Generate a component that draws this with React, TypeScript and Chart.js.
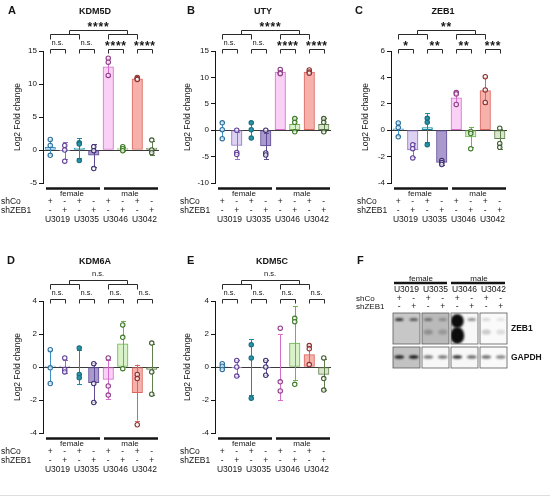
import { useEffect, useRef } from "react";
import { Chart, registerables } from "chart.js";

Chart.register(...registerables);

const FONT = '"Liberation Sans", Arial, Helvetica, sans-serif';
const INK = "#151515";

// shared layout of the 8 conditions
const conditions = [
  "U3019 shCo", "U3019 shZEB1", "U3035 shCo", "U3035 shZEB1",
  "U3046 shCo", "U3046 shZEB1", "U3042 shCo", "U3042 shZEB1",
];
const cellLines = ["U3019", "U3035", "U3046", "U3042"];
const sexes = ["female", "male"];
const shCoRow = ["+", "-", "+", "-", "+", "-", "+", "-"];
const shZebRow = ["-", "+", "-", "+", "-", "+", "-", "+"];

const barFill = ["#c8e4f4", "#ded2f2", "#c2e6ec", "#a999cd", "#fbd0f7", "#d9f2c9", "#f6b1ab", "#d9e6cd"];
const barEdge = ["#3d92c6", "#8f6fc6", "#1c8ba1", "#5d4b95", "#d56dcd", "#70b24e", "#d9655d", "#61804e"];
const dotEdge = ["#2d6f9c", "#60409a", "#15707f", "#3f2f72", "#8e3c86", "#3f7a2a", "#8e2e2e", "#3f5c30"];
const dotFill = [
  "rgba(255,255,255,0.7)", "rgba(255,255,255,0.7)", "#2a93a8", "rgba(255,255,255,0.7)",
  "rgba(255,255,255,0.7)", "rgba(255,255,255,0.7)", "rgba(255,255,255,0.7)", "rgba(255,255,255,0.7)",
];

// A - KDM5D
const kdm5dTicks = [-5, 0, 5, 10, 15];
const kdm5dMean = [0.4, -0.1, 0.3, -0.8, 12.6, 0.2, 10.8, 0.3];
const kdm5dSd = [1.2, 1.3, 1.5, 1.7, 1.4, 0.3, 0.2, 1.0];
const kdm5dReps = [[1.6, 0.7, -0.8], [0.7, 0.0, -1.7], [1.1, 0.9, -1.6], [0.5, -0.1, -2.8], [13.9, 13.3, 11.3], [0.5, 0.2, -0.1], [11.0, 10.8, 10.7], [1.5, 0.0, -0.4]];
const kdm5dPairSig = ["n.s.", "n.s.", "****", "****"];
const kdm5dTopSig = "****";

// B - UTY
const utyTicks = [-10, -5, 0, 5, 10, 15];
const utyMean = [0.0, -2.9, 0.0, -3.0, 11.0, 1.1, 11.0, 1.1];
const utySd = [1.5, 2.5, 1.5, 2.5, 0.4, 1.2, 0.3, 1.2];
const utyReps = [[1.4, 0.1, -1.6], [0.0, -4.2, -4.6], [1.4, 0.1, -1.5], [0.0, -4.3, -4.7], [11.5, 10.9, 10.7], [2.2, 1.5, -0.3], [11.4, 11.0, 10.8], [2.2, 1.5, -0.3]];
const utyPairSig = ["n.s.", "n.s.", "****", "****"];
const utyTopSig = "****";

// C - ZEB1
const zeb1Ticks = [-4, -2, 0, 2, 4, 6];
const zeb1Mean = [0.1, -1.5, 0.2, -2.45, 2.45, -0.5, 3.0, -0.65];
const zeb1Sd = [0.55, 0.5, 1.1, 0.15, 0.5, 0.75, 1.0, 0.75];
const zeb1Reps = [[0.55, 0.2, -0.5], [-1.1, -1.4, -2.1], [0.9, 0.6, -1.1], [-2.3, -2.45, -2.6], [2.85, 2.75, 1.95], [-0.1, -0.25, -1.4], [4.05, 3.05, 2.1], [0.15, -1.0, -1.3]];
const zeb1PairSig = ["*", "**", "**", "***"];
const zeb1TopSig = "**";

// D - KDM6A
const kdm6aTicks = [-4, -2, 0, 2, 4];
const kdm6aMean = [0.05, 0.05, 0.0, -0.95, -0.75, 1.4, -1.55, -0.15];
const kdm6aSd = [1.0, 0.4, 1.05, 1.2, 1.2, 1.4, 1.7, 1.55];
const kdm6aReps = [[1.05, -0.05, -1.0], [0.55, -0.15, -0.3], [1.15, -0.45, -0.65], [0.2, -1.0, -2.15], [0.55, -1.15, -1.7], [2.55, 1.8, -0.1], [-0.45, -0.7, -3.5], [1.45, -0.3, -1.65]];
const kdm6aPairSig = ["n.s.", "n.s.", "n.s.", "n.s."];
const kdm6aTopSig = "n.s.";

// E - KDM5C
const kdm5cTicks = [-4, -2, 0, 2, 4];
const kdm5cMean = [0.03, -0.05, 0.0, -0.05, 0.0, 1.45, 0.75, -0.45];
const kdm5cSd = [0.15, 0.5, 1.7, 0.45, 2.0, 2.25, 0.6, 0.95];
const kdm5cReps = [[0.2, 0.05, -0.15], [0.4, 0.0, -0.55], [1.35, 0.55, -1.9], [0.4, 0.0, -0.5], [2.35, -0.9, -1.45], [2.95, 2.75, -1.05], [1.3, 1.1, 0.15], [0.55, -0.7, -1.4]];
const kdm5cPairSig = ["n.s.", "n.s.", "n.s.", "n.s."];
const kdm5cTopSig = "n.s.";

// F - western blot, relative band signal per lane (>1 = overexposed)
const zeb1Upper = [0.8, 0.6, 0.45, 0.3, 3, 0.45, 0.15, 0.1];
const zeb1Lower = [0, 0, 0.25, 0.2, 3, 0, 0.2, 0.12];
const gapdhBand = [0.9, 0.95, 0.55, 0.55, 0.85, 0.6, 0.6, 0.5];
const zeb1Backdrop = [0.78, 0.73, 0.97, 0.98];
const gapdhBackdrop = [0.76, 0.97, 0.97, 0.98];

const AREA_TOP = 51;
const AREA_BOTTOM = 183;

type Panel = {
  letter: string;
  title: string;
  ticks: number[];
  mean: number[];
  sd: number[];
  reps: number[][];
  pairSig: string[];
  topSig: string;
  box: { left: number; top: number; width: number; height: number };
  area: { left: number; right: number };
  letterX: number;
  rowX: number;
  titlePad: number;
  titleShift: number;
};

const panels: Panel[] = [
  { letter: "A", title: "KDM5D", ticks: kdm5dTicks, mean: kdm5dMean, sd: kdm5dSd, reps: kdm5dReps, pairSig: kdm5dPairSig, topSig: kdm5dTopSig,
    box: { left: 0, top: 0, width: 180, height: 230 }, area: { left: 43, right: 159 }, letterX: 8, rowX: 1, titlePad: 13, titleShift: -6 },
  { letter: "B", title: "UTY", ticks: utyTicks, mean: utyMean, sd: utySd, reps: utyReps, pairSig: utyPairSig, topSig: utyTopSig,
    box: { left: 180, top: 0, width: 172, height: 230 }, area: { left: 35, right: 151 }, letterX: 7, rowX: 0, titlePad: 3, titleShift: -10 },
  { letter: "C", title: "ZEB1", ticks: zeb1Ticks, mean: zeb1Mean, sd: zeb1Sd, reps: zeb1Reps, pairSig: zeb1PairSig, topSig: zeb1TopSig,
    box: { left: 352, top: 0, width: 198, height: 230 }, area: { left: 39, right: 155 }, letterX: 3, rowX: 5, titlePad: 9, titleShift: -6 },
  { letter: "D", title: "KDM6A", ticks: kdm6aTicks, mean: kdm6aMean, sd: kdm6aSd, reps: kdm6aReps, pairSig: kdm6aPairSig, topSig: kdm6aTopSig,
    box: { left: 0, top: 250, width: 180, height: 230 }, area: { left: 43, right: 159 }, letterX: 7, rowX: 1, titlePad: 13, titleShift: -6 },
  { letter: "E", title: "KDM5C", ticks: kdm5cTicks, mean: kdm5cMean, sd: kdm5cSd, reps: kdm5cReps, pairSig: kdm5cPairSig, topSig: kdm5cTopSig,
    box: { left: 180, top: 250, width: 172, height: 230 }, area: { left: 35, right: 151 }, letterX: 7, rowX: 0, titlePad: 3, titleShift: -1 },
];

const crisp = (v: number) => Math.round(v) + 0.5;

const drawBracket = (ctx: CanvasRenderingContext2D, x1: number, x2: number, y: number, leg: number) => {
  ctx.beginPath();
  ctx.moveTo(crisp(x1), y + leg);
  ctx.lineTo(crisp(x1), crisp(y));
  ctx.lineTo(crisp(x2), crisp(y));
  ctx.lineTo(crisp(x2), y + leg);
  ctx.stroke();
};

const drawSig = (ctx: CanvasRenderingContext2D, text: string, x: number, y: number) => {
  ctx.textAlign = "center";
  if (text.includes("*")) {
    ctx.font = `bold 12px ${FONT}`;
    (ctx as any).letterSpacing = "0.8px";
    ctx.textBaseline = "alphabetic";
    ctx.fillText(text, x + 0.4, y + 7);
    (ctx as any).letterSpacing = "0px";
  } else {
    ctx.font = `7.5px ${FONT}`;
    ctx.textBaseline = "middle";
    ctx.fillText(text, x, y);
  }
};

const makeErrorBars = (p: Panel) => ({
  id: "errorBars",
  afterDatasetDraw(chart: any, args: any) {
    if (args.index !== 0) return;
    const { ctx } = chart;
    const y = chart.scales.y;
    const meta = chart.getDatasetMeta(0);
    ctx.save();
    ctx.lineWidth = 1;
    meta.data.forEach((el: any, i: number) => {
      const x = crisp(el.x);
      const y1 = y.getPixelForValue(p.mean[i] + p.sd[i]);
      const y2 = y.getPixelForValue(p.mean[i] - p.sd[i]);
      ctx.strokeStyle = barEdge[i];
      ctx.beginPath();
      ctx.moveTo(x, y1);
      ctx.lineTo(x, y2);
      ctx.moveTo(x - 2.5, crisp(y1));
      ctx.lineTo(x + 2.5, crisp(y1));
      ctx.moveTo(x - 2.5, crisp(y2));
      ctx.lineTo(x + 2.5, crisp(y2));
      ctx.stroke();
    });
    ctx.restore();
  },
});

const makeAnnotations = (p: Panel) => ({
  id: "annotations",
  afterDraw(chart: any) {
    const { ctx, chartArea: a } = chart;
    const px = (v: number) => chart.scales.x.getPixelForValue(v);
    ctx.save();
    ctx.fillStyle = INK;
    ctx.strokeStyle = "#2a2a2a";
    ctx.lineWidth = 1;

    ctx.font = `bold 11px ${FONT}`;
    ctx.textAlign = "left";
    ctx.textBaseline = "middle";
    ctx.fillText(p.letter, p.letterX, 11);

    ctx.font = `bold 9px ${FONT}`;
    ctx.textAlign = "center";
    ctx.fillText(p.title, (a.left + a.right) / 2 + p.titleShift, a.top - 39);

    // significance brackets
    p.pairSig.forEach((s, k) => {
      drawBracket(ctx, px(2 * k), px(2 * k + 1), a.top - 2, 4.5);
      drawSig(ctx, s, (px(2 * k) + px(2 * k + 1)) / 2, a.top - 8.5);
    });
    drawBracket(ctx, px(0), px(2), a.top - 17, 5.5);
    drawBracket(ctx, px(4), px(6), a.top - 17, 5.5);
    drawBracket(ctx, px(1.3), px(5.3), a.top - 21.5, 4.5);
    drawSig(ctx, p.topSig, (px(1.3) + px(5.3)) / 2, a.top - 27);

    // condition table under the plot
    const b = a.bottom;
    ctx.lineWidth = 2.5;
    ctx.strokeStyle = INK;
    ctx.beginPath();
    ctx.moveTo(a.left + 3, b + 5.5);
    ctx.lineTo(px(3.5) - 1, b + 5.5);
    ctx.moveTo(px(3.5) + 3, b + 5.5);
    ctx.lineTo(a.right - 1, b + 5.5);
    ctx.stroke();

    ctx.font = `8px ${FONT}`;
    ctx.textAlign = "center";
    ctx.textBaseline = "middle";
    ctx.fillText(sexes[0], px(1.5), b + 10.5);
    ctx.fillText(sexes[1], px(5.5), b + 10.5);

    ctx.font = `8.5px ${FONT}`;
    ctx.textAlign = "left";
    ctx.fillText("shCo", p.rowX, b + 19);
    ctx.fillText("shZEB1", p.rowX, b + 28);
    ctx.textAlign = "center";
    shCoRow.forEach((s, i) => ctx.fillText(s, px(i), b + 19));
    shZebRow.forEach((s, i) => ctx.fillText(s, px(i), b + 28));
    cellLines.forEach((c, k) => ctx.fillText(c, px(2 * k + 0.5), b + 37));
    ctx.restore();
  },
});

const BarPanel = ({ p }: { p: Panel }) => {
  const chartRef = useRef<HTMLCanvasElement>(null);

  useEffect(() => {
    const canvas = chartRef.current;
    if (!canvas) return;
    const bars = p.mean.map((v, i) => ({ x: i, y: v }));
    const scatter = p.reps.flatMap((r, i) => r.map((v) => ({ x: i, y: v })));
    const scatterEdge = p.reps.flatMap((r, i) => r.map(() => dotEdge[i]));
    const scatterFill = p.reps.flatMap((r, i) => r.map(() => dotFill[i]));

    const chart = new Chart(canvas, {
      type: "bar",
      data: {
        datasets: [
          {
            type: "bar",
            label: "mean",
            data: bars,
            backgroundColor: barFill,
            borderColor: barEdge,
            borderWidth: 1,
            borderSkipped: false,
            barThickness: 10.5,
            order: 2,
          } as any,
          {
            type: "scatter",
            label: "replicates",
            data: scatter,
            pointRadius: 2.2,
            pointBorderWidth: 1.1,
            pointBorderColor: scatterEdge,
            pointBackgroundColor: scatterFill,
            order: 1,
          } as any,
        ],
      },
      options: {
        responsive: false,
        animation: false,
        events: [],
        layout: {
          padding: {
            left: 0,
            top: AREA_TOP,
            right: p.box.width - p.area.right,
            bottom: p.box.height - AREA_BOTTOM,
          },
        },
        plugins: {
          legend: { display: false },
          tooltip: { enabled: false },
        },
        scales: {
          x: { type: "linear", display: false, offset: false, min: -0.5, max: 7.5 },
          y: {
            min: p.ticks[0],
            max: p.ticks[p.ticks.length - 1],
            afterBuildTicks: (s: any) => {
              s.ticks = p.ticks.map((v) => ({ value: v }));
            },
            afterFit: (s: any) => {
              s.width = p.area.left;
            },
            border: { display: true, color: INK, width: 1 },
            grid: {
              color: (c: any) => (c.tick && c.tick.value === 0 ? "#3a3a3a" : "rgba(0,0,0,0)"),
              tickColor: INK,
              tickLength: 4,
              lineWidth: 1,
            },
            ticks: { font: { family: FONT, size: 8 }, color: INK, padding: 2 },
            title: {
              display: true,
              text: "Log2 Fold change",
              font: { family: FONT, size: 8.5 },
              color: INK,
              padding: { top: p.titlePad, bottom: 0 },
            },
          },
        } as any,
      },
      plugins: [makeErrorBars(p), makeAnnotations(p)],
    });

    return () => chart.destroy();
  }, [p]);

  return (
    <canvas
      ref={chartRef}
      width={p.box.width}
      height={p.box.height}
      style={{ position: "absolute", left: p.box.left, top: p.box.top, width: p.box.width, height: p.box.height }}
    />
  );
};

const gray = (g: number) => {
  const v = Math.round(g * 255);
  return `rgb(${v},${v},${v})`;
};

const blotPlugin = {
  id: "blot",
  afterDraw(chart: any) {
    const { ctx, chartArea: a } = chart;
    const x = chart.scales.x;
    const lane = (a.right - a.left) / 8;
    const zTop = a.top;
    const zBot = a.top + 31;
    const gTop = a.top + 34;
    const gBot = a.bottom;
    ctx.save();

    // header: sex, cell line, shRNA rows
    ctx.fillStyle = INK;
    ctx.font = `bold 11px ${FONT}`;
    ctx.textAlign = "left";
    ctx.textBaseline = "middle";
    ctx.fillText("F", 3, 11);

    ctx.font = `8px ${FONT}`;
    ctx.textAlign = "center";
    ctx.fillText(sexes[0], x.getPixelForValue(1.5), zTop - 34);
    ctx.fillText(sexes[1], x.getPixelForValue(5.5), zTop - 34);
    ctx.strokeStyle = INK;
    ctx.lineWidth = 2.5;
    ctx.beginPath();
    ctx.moveTo(a.left + 2, zTop - 30);
    ctx.lineTo(x.getPixelForValue(3.5) - 3, zTop - 30);
    ctx.moveTo(x.getPixelForValue(3.5) + 1, zTop - 30);
    ctx.lineTo(a.right - 3, zTop - 30);
    ctx.stroke();

    ctx.font = `8.5px ${FONT}`;
    cellLines.forEach((c, k) => ctx.fillText(c, x.getPixelForValue(2 * k + 0.5), zTop - 23));
    shCoRow.forEach((s, i) => ctx.fillText(s, x.getPixelForValue(i), zTop - 14));
    shZebRow.forEach((s, i) => ctx.fillText(s, x.getPixelForValue(i), zTop - 6));
    ctx.textAlign = "left";
    ctx.font = `8px ${FONT}`;
    ctx.fillText("shCo", 2, zTop - 14);
    ctx.fillText("shZEB1", 2, zTop - 6);

    // membrane strips
    const strips: number[][] = [];
    for (let k = 0; k < 4; k++) {
      const xl = x.getPixelForValue(2 * k) - lane / 2 + 1;
      const xr = x.getPixelForValue(2 * k + 1) + lane / 2 - 1;
      strips.push([xl, xr]);
      ctx.fillStyle = gray(zeb1Backdrop[k]);
      ctx.fillRect(xl, zTop, xr - xl, zBot - zTop);
      ctx.fillStyle = gray(gapdhBackdrop[k]);
      ctx.fillRect(xl, gTop, xr - xl, gBot - gTop);
    }

    const band = (cx: number, cy: number, v: number, rx: number, ry: number) => {
      if (v <= 0) return;
      ctx.fillStyle = `rgba(12,12,12,${Math.min(1, v)})`;
      ctx.beginPath();
      ctx.ellipse(cx, cy, rx, ry, 0, 0, Math.PI * 2);
      ctx.fill();
    };

    strips.forEach(([xl, xr], k) => {
      ctx.save();
      ctx.beginPath();
      ctx.rect(xl, zTop, xr - xl, zBot - zTop);
      ctx.rect(xl, gTop, xr - xl, gBot - gTop);
      ctx.clip();
      ctx.filter = "blur(0.9px)";
      [2 * k, 2 * k + 1].forEach((i) => {
        const cx = x.getPixelForValue(i);
        const up = zeb1Upper[i];
        const lo = zeb1Lower[i];
        if (up > 1) band(cx, zTop + 8, 1, 6.5, 7);
        else band(cx, zTop + 6.5, up, 4.3, 1.6);
        if (lo > 1) band(cx, zTop + 22.5, 1, 7, 8.5);
        else band(cx, zTop + 19, lo, 4.5, 2.6);
        band(cx, gTop + 10, gapdhBand[i], 4.8, 1.7);
      });
      ctx.restore();
      ctx.strokeStyle = "#5a5a5a";
      ctx.lineWidth = 0.8;
      ctx.strokeRect(xl, zTop, xr - xl, zBot - zTop);
      ctx.strokeRect(xl, gTop, xr - xl, gBot - gTop);
    });

    ctx.fillStyle = INK;
    ctx.font = `bold 8.5px ${FONT}`;
    ctx.textAlign = "left";
    ctx.textBaseline = "middle";
    ctx.fillText("ZEB1", a.right + 3, (zTop + zBot) / 2);
    ctx.fillText("GAPDH", a.right + 3, (gTop + gBot) / 2);
    ctx.restore();
  },
};

const BlotPanel = () => {
  const chartRef = useRef<HTMLCanvasElement>(null);
  const W = 196;
  const H = 130;

  useEffect(() => {
    const canvas = chartRef.current;
    if (!canvas) return;
    const chart = new Chart(canvas, {
      type: "bar",
      data: { labels: conditions, datasets: [] },
      options: {
        responsive: false,
        animation: false,
        events: [],
        layout: { padding: { left: 38, top: 63, right: W - 154, bottom: H - 118 } },
        plugins: { legend: { display: false }, tooltip: { enabled: false } },
        scales: {
          x: { display: false, offset: true },
          y: { display: false, min: 0, max: 1 },
        },
      },
      plugins: [blotPlugin],
    });
    return () => chart.destroy();
  }, []);

  return (
    <canvas
      ref={chartRef}
      width={W}
      height={H}
      style={{ position: "absolute", left: 354, top: 250, width: W, height: H }}
    />
  );
};

const App = () => (
  <div style={{ position: "absolute", left: 0, top: 0, width: 550, height: 500, background: "#fff", overflow: "hidden" }}>
    {panels.map((p) => (
      <BarPanel key={p.letter} p={p} />
    ))}
    <BlotPanel />
    <div style={{ position: "absolute", left: 0, top: 495, width: 550, height: 1, background: "#dedede" }} />
  </div>
);

export default App;
